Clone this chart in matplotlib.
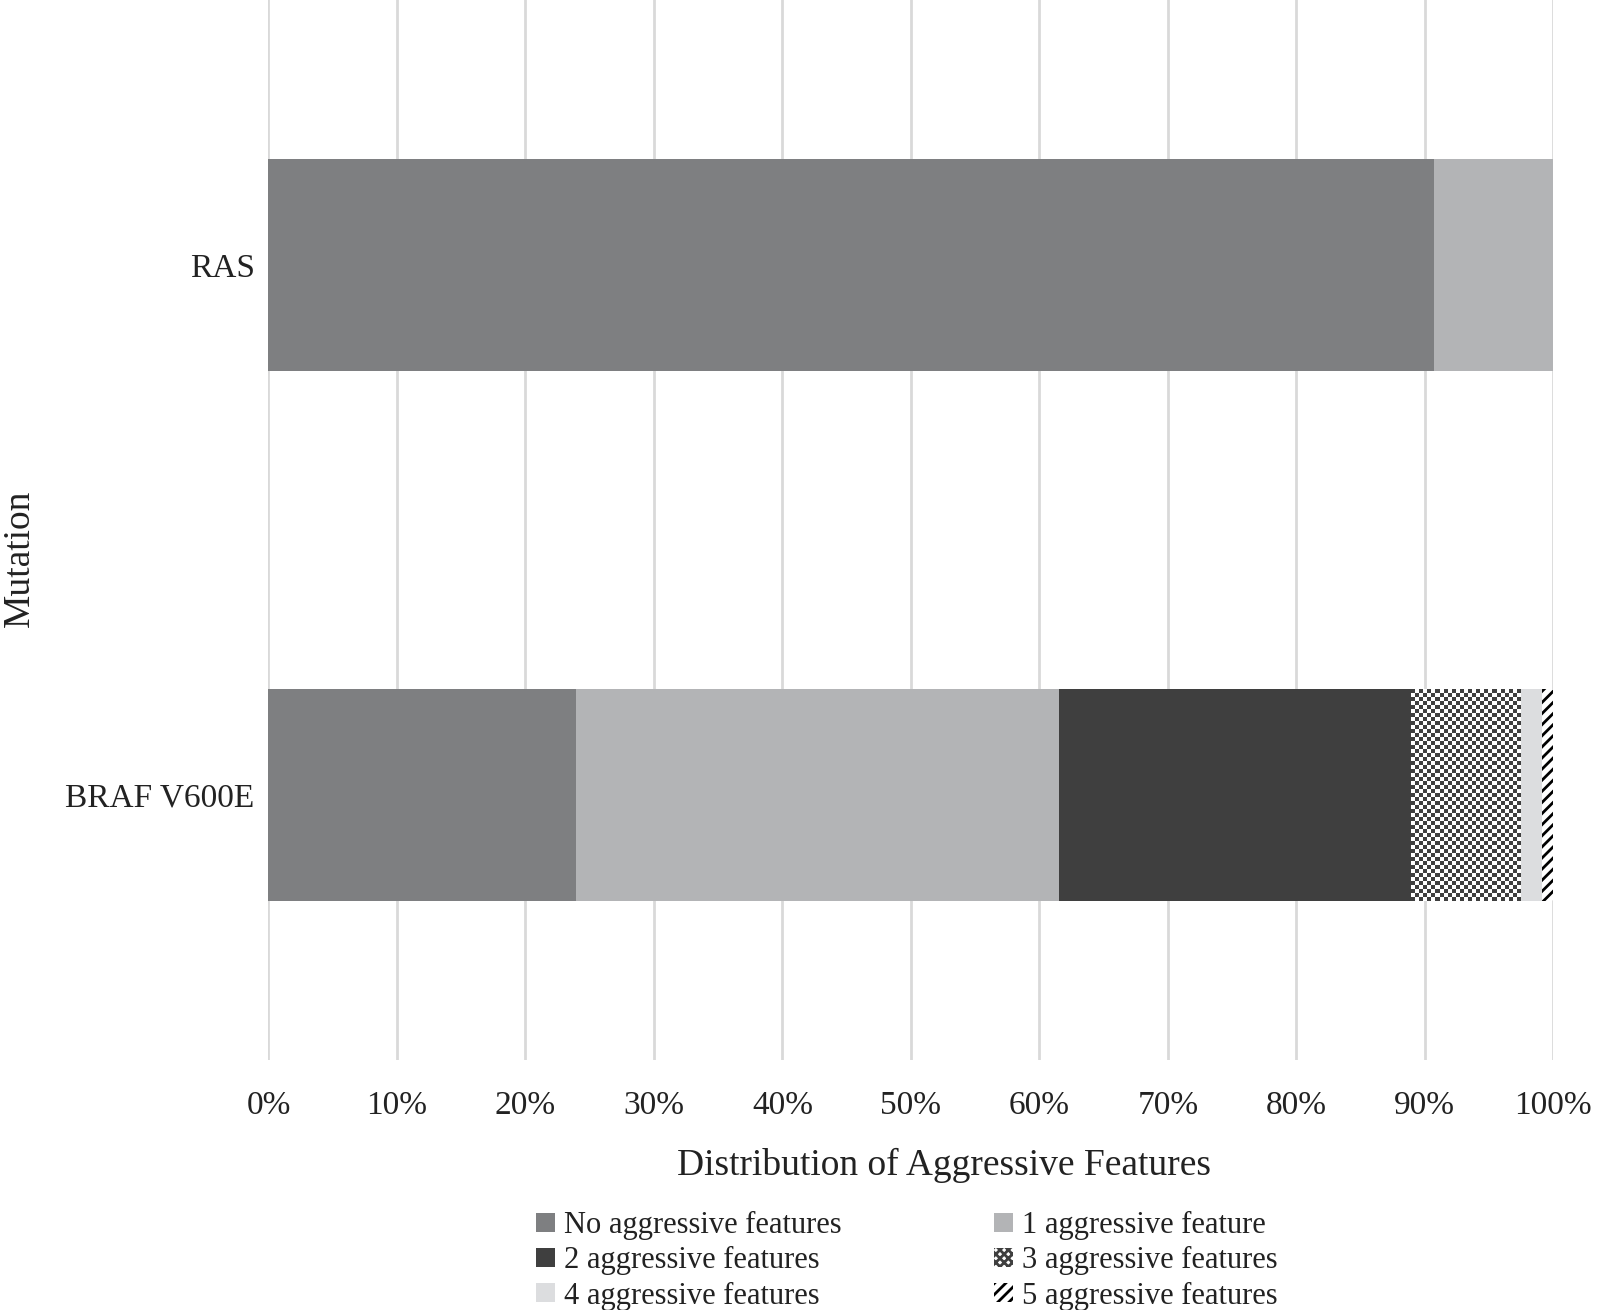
import numpy as np
import matplotlib.pyplot as plt

mutations = ["BRAF V600E", "RAS"]
labels = ["No aggressive features", "1 aggressive feature", "2 aggressive features",
          "3 aggressive features", "4 aggressive features", "5 aggressive features"]
braf = [23.9, 37.6, 27.4, 8.5, 1.7, 0.9]
ras = [90.7, 9.3, 0, 0, 0, 0]

colors = ["#7e7f81", "#b3b4b6", "#3f3f3f", "white", "#dcdddf", "white"]
hatches = [None, None, None, "xxxx", None, "///"]
edges = ["#7e7f81", "#b3b4b6", "#3f3f3f", "#3f3f3f", "#dcdddf", "black"]

plt.rcParams['font.family'] = ['Liberation Serif', 'DejaVu Serif']
plt.rcParams['hatch.linewidth'] = 2.0

fig = plt.figure(figsize=(15.98, 13.10), dpi=100)
ax = fig.add_axes([0.168, 0.191, 0.804, 0.809])

y = np.arange(len(mutations))
vals = np.array([braf, ras])
left = np.zeros(len(mutations))
handles = []
for i, lab in enumerate(labels):
    b = ax.barh(y, vals[:, i], left=left, height=0.4, color=colors[i], hatch=hatches[i],
                edgecolor=edges[i], linewidth=0, label=lab, zorder=3)
    handles.append(b)
    left += vals[:, i]

ax.set_xlim(0, 100)
ax.set_ylim(-0.5, 1.5)

# checkerboard texture for the "3 aggressive features" segments
for p in handles[3].patches:
    if p.get_width() <= 0:
        continue
    x0, y0 = p.get_x(), p.get_y()
    x1, y1 = x0 + p.get_width(), y0 + p.get_height()
    (px0, py0), (px1, py1) = ax.transData.transform([(x0, y0), (x1, y1)])
    nx = max(1, int(round(abs(px1 - px0) / 4)))
    ny = max(1, int(round(abs(py1 - py0) / 4)))
    checker = (np.add.outer(np.arange(ny), np.arange(nx)) % 2).astype(float)
    im = ax.imshow(checker, extent=(x0, x1, y0, y1), cmap=plt.matplotlib.colors.ListedColormap(["#3f3f3f", "white"]),
                   interpolation='nearest', aspect='auto', zorder=4)
    im.set_clip_path(p)

ax.set_xticks(np.arange(0, 101, 10))
ax.set_xticklabels([f"{t}%" for t in range(0, 101, 10)])
ax.set_yticks(y)
ax.set_yticklabels(mutations)
ax.tick_params(axis='both', length=0, labelsize=24, colors='#222222')
ax.tick_params(axis='x', pad=22)
ax.tick_params(axis='y', pad=10)
ax.grid(axis='x', color='#d9d9d9', linewidth=2, zorder=0)
for s in ax.spines.values():
    s.set_visible(False)

ax.set_xlabel("Distribution of Aggressive Features", fontsize=27, color='#222222')
ax.xaxis.set_label_coords(0.526, -0.083)
ax.set_ylabel("Mutation", fontsize=27, color='#222222')
ax.yaxis.set_label_coords(-0.18, 0.473)

# legend filled row by row: (No, 1), (2, 3), (4, 5)
order = [0, 2, 4, 1, 3, 5]
ax.legend([handles[k] for k in order], [labels[k] for k in order],
          loc='upper center', bbox_to_anchor=(0.497, -0.117), ncol=2, frameon=False,
          fontsize=22, handlelength=0.6, handleheight=0.6, handletextpad=0.3,
          labelspacing=0.2, columnspacing=5.0, labelcolor='#222222')

fig.savefig("out.png", dpi=100)
